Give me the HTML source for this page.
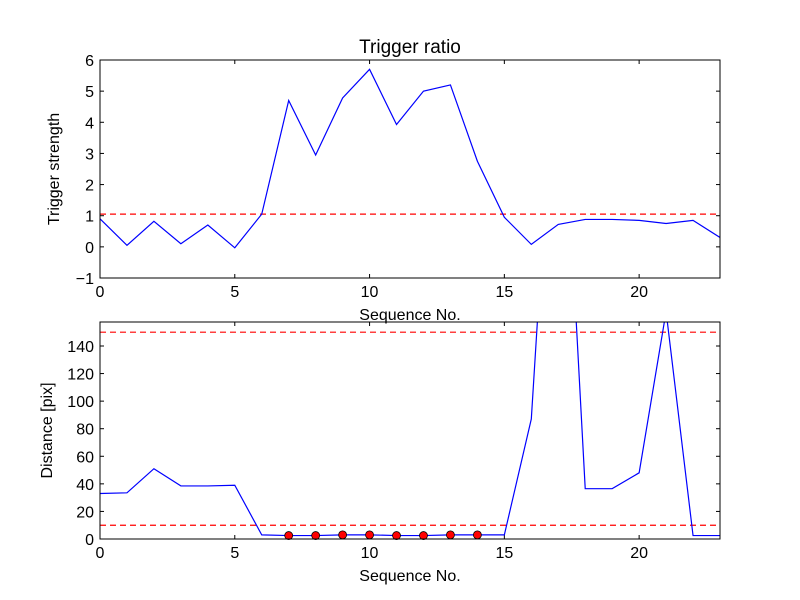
<!DOCTYPE html>
<html><head><meta charset="utf-8"><style>body{margin:0;background:#fff}svg{display:block;font-family:"Liberation Sans",sans-serif}</style></head>
<body>
<svg id="c" width="800" height="600" viewBox="0 0 800 600">
<rect width="800" height="600" fill="#fff"/>
<defs><clipPath id="cp1"><rect x="100" y="60" width="620" height="218"/></clipPath><clipPath id="cp2"><rect x="100" y="322" width="620" height="217"/></clipPath></defs>
<g id="g"></g>
</svg>
<script>
const seq = [0,1,2,3,4,5,6,7,8,9,10,11,12,13,14,15,16,17,18,19,20,21,22,23];
const strength = [0.9,0.05,0.82,0.1,0.7,-0.03,1.05,4.7,2.95,4.78,5.7,3.93,5.0,5.2,2.75,0.95,0.08,0.72,0.88,0.88,0.85,0.75,0.85,0.3];
const strengthThreshold = 1.05;
const distance = [33,33.5,51,38.5,38.5,39,3,2.5,2.5,3,3,2.5,2.5,3,3,3,87,400,36.5,36.5,48,165,2.5,2.5];
const dotSeq = [7,8,9,10,11,12,13,14];
const dotVals = [2.5,2.5,3,3,2.5,2.5,3,3];
const distLimits = [10,150];
const xTicks = [0,5,10,15,20];
const yTicks1 = [-1,0,1,2,3,4,5,6];
const yTicks2 = [0,20,40,60,80,100,120,140];

const NS="http://www.w3.org/2000/svg", G=document.getElementById('g');
function mk(t,a,p){const e=document.createElementNS(NS,t);for(const k in a)e.setAttribute(k,a[k]);(p||G).appendChild(e);return e;}
const L=100,R=720;
const sx=v=>L+(v-0)/23*(R-L);
function panel(top,bot,ymin,ymax,yt,clip,ylabel,name){
  const sy=v=>bot-(v-ymin)/(ymax-ymin)*(bot-top);
  const g=mk('g',{});
  
  
  xTicks.forEach(v=>{const x=sx(v);
    mk('line',{x1:x,x2:x,y1:bot,y2:bot-4,stroke:'#000'},g);mk('line',{x1:x,x2:x,y1:top,y2:top+4,stroke:'#000'},g);
    const t=mk('text',{x:x,y:bot+19,'text-anchor':'middle','font-size':16},g);t.textContent=v;
    });
  yt.forEach(v=>{const y=sy(v);
    mk('line',{x1:L,x2:L+4,y1:y,y2:y,stroke:'#000'},g);mk('line',{x1:R,x2:R-4,y1:y,y2:y,stroke:'#000'},g);
    const t=mk('text',{x:L-6,y:y+6,'text-anchor':'end','font-size':16},g);t.textContent=(v<0?'\u2212'+(-v):v);
    });
  const xl=mk('text',{x:(L+R)/2,y:bot+42,'text-anchor':'middle','font-size':16},g);xl.textContent='Sequence No.';
  
  const yl=mk('text',{x:0,y:0,'text-anchor':'middle','font-size':16,transform:`translate(${name==='top-panel'?59:52},${(top+bot)/2}) rotate(-90)`},g);yl.textContent=ylabel;
  
  return {sy,g};
}
const p1=panel(60,278,-1,6,yTicks1,'cp1','Trigger strength','top-panel');
const ttl=mk('text',{x:410,y:53,'text-anchor':'middle','font-size':19});ttl.textContent='Trigger ratio';

const th=mk('line',{x1:L,x2:R,y1:p1.sy(strengthThreshold),y2:p1.sy(strengthThreshold),stroke:'red','stroke-dasharray':'6,4','stroke-width':1.2});

const l1=mk('polyline',{points:seq.map((s,i)=>sx(s)+','+p1.sy(strength[i])).join(' '),fill:'none',stroke:'blue','stroke-width':1.2,'clip-path':'url(#cp1)'});

mk('rect',{x:L,y:60,width:R-L,height:218,fill:'none',stroke:'#000'});

const p2=panel(322,539,0,157.4,yTicks2,'cp2','Distance [pix]','bottom-panel');
distLimits.forEach(v=>{const d=mk('line',{x1:L,x2:R,y1:p2.sy(v),y2:p2.sy(v),stroke:'red','stroke-dasharray':'6,4','stroke-width':1.2});
  });
const l2=mk('polyline',{points:seq.map((s,i)=>sx(s)+','+p2.sy(distance[i])).join(' '),fill:'none',stroke:'blue','stroke-width':1.2,'clip-path':'url(#cp2)'});

dotSeq.forEach((s,i)=>{const c=mk('circle',{cx:sx(s),cy:p2.sy(dotVals[i]),r:4,fill:'red',stroke:'#000','stroke-width':0.8});
  });
mk('rect',{x:L,y:322,width:R-L,height:217,fill:'none',stroke:'#000'});
</script>
</body></html>
